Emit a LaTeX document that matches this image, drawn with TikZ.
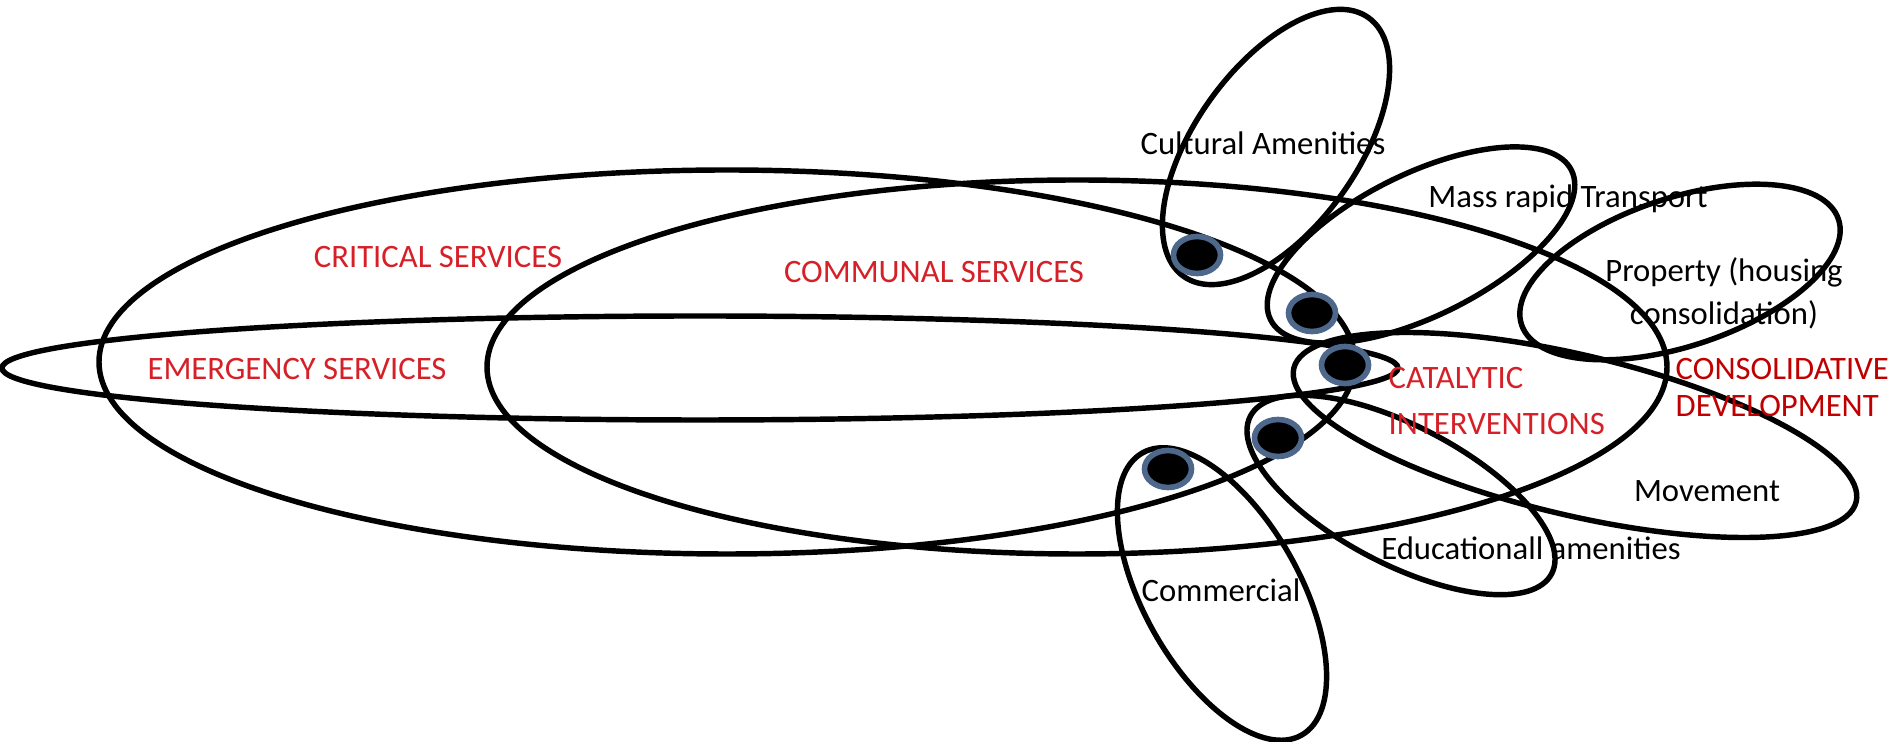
\documentclass[tikz,border=0pt]{standalone}
\usepackage{fontspec}
\setmainfont{Carlito}
\definecolor{labelred}{RGB}{214,32,40}
\definecolor{darkred}{RGB}{192,0,0}
\definecolor{ringblue}{RGB}{78,104,140}
\tikzset{
  >=latex,
}
\tikzstyle{blob}=[line width=1.55pt]
\tikzstyle{hub}=[line width=1.6pt,draw=ringblue,fill=black]
\tikzstyle{every node}=[font=\fontsize{9.3}{11}\selectfont,inner sep=0pt]
\tikzstyle{service}=[labelred]
\tikzstyle{sector}=[black]

\begin{document}
\begin{tikzpicture}
  \useasboundingbox (0,0) rectangle (18.93,7.42);

  % the three service rings
  \draw[blob] (7.00,3.74) ellipse [x radius=6.98, y radius=0.52];
  \draw[blob] (7.27,3.80) ellipse [x radius=6.28, y radius=1.92];
  \draw[blob] (10.77,3.75) ellipse [x radius=5.90, y radius=1.87];

  % sectors round the hub
  \draw[blob,rotate around={54.4:(12.76,5.95)}] (12.76,5.95) ellipse [x radius=1.59, y radius=0.81];
  \draw[blob,rotate around={26.4:(14.21,4.97)}] (14.21,4.97) ellipse [x radius=1.68, y radius=0.71];
  \draw[blob,rotate around={18.4:(16.80,4.70)}] (16.80,4.70) ellipse [x radius=1.67, y radius=0.74];
  \draw[blob,rotate around={-13.35:(15.75,3.07)}] (15.75,3.07) ellipse [x radius=2.89, y radius=0.80];
  \draw[blob,rotate around={-27.6:(14.01,2.47)}] (14.01,2.47) ellipse [x radius=1.70, y radius=0.69];
  \draw[blob,rotate around={-60.6:(12.22,1.48)}] (12.22,1.48) ellipse [x radius=1.62, y radius=0.78];

  % interventions
  \foreach \p in {(11.97,4.87),(13.12,4.29),(13.45,3.77),(12.78,3.04),(11.68,2.73)}
    \draw[hub] \p ellipse [x radius=0.235, y radius=0.185];

  \node[service,anchor=base] (critical) at (4.38,4.74) {CRITICAL SERVICES};
  \node[service,anchor=base] (communal) at (9.34,4.59) {COMMUNAL SERVICES};
  \node[service,anchor=base] (emergency) at (2.97,3.62) {EMERGENCY SERVICES};
  \node[service,anchor=base west] (catalytic) at (13.88,3.53) {CATALYTIC};
  \node[service,anchor=base west] (interventions) at (13.88,3.07) {INTERVENTIONS};
  \node[darkred,anchor=base west] (consolidative) at (16.75,3.62) {CONSOLIDATIVE};
  \node[darkred,anchor=base west] (development) at (16.75,3.25) {DEVELOPMENT};

  \node[sector,anchor=base] (cultural) at (12.63,5.87) {Cultural Amenities};
  \node[sector,anchor=base] (transport) at (15.68,5.34) {Mass rapid Transport};
  \node[sector,anchor=base] (property) at (17.24,4.60) {Property (housing};
  \node[sector,anchor=base] (housing) at (17.24,4.17) {consolidation)};
  \node[sector,anchor=base] (movement) at (17.07,2.40) {Movement};
  \node[sector,anchor=base] (education) at (15.31,1.82) {Educationall amenities};
  \node[sector,anchor=base] (commercial) at (12.21,1.40) {Commercial};
\end{tikzpicture}
\end{document}
